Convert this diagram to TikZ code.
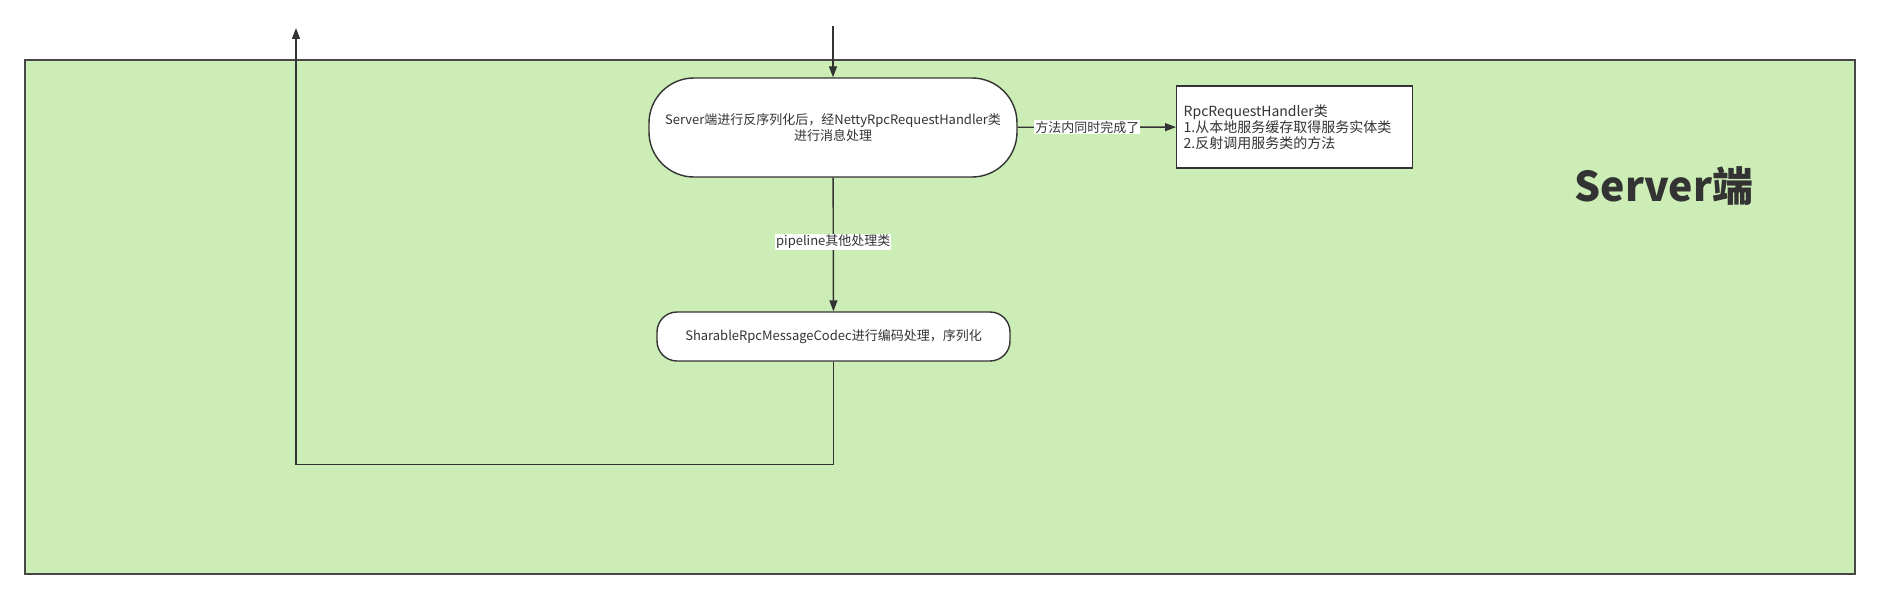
\documentclass[tikz,border=0pt]{standalone}
\usepackage{fontspec}
\setmainfont{Noto Sans CJK SC}
\usetikzlibrary{arrows.meta}
\definecolor{srvgreen}{RGB}{204,237,181}
\definecolor{inkgray}{RGB}{51,51,51}

\begin{document}
\begin{tikzpicture}[x=1pt,y=-1pt,
    flow/.style={draw=inkgray, line width=1.4pt, -{Triangle[length=11pt,width=8pt]}},
    stadium/.style={draw=inkgray, fill=white, line width=1.4pt, font={\fontsize{13}{16}\selectfont}, text=inkgray, align=center},
    plainbox/.style={draw=inkgray, fill=white, line width=1.4pt, font={\fontsize{14}{16}\selectfont}, text=inkgray, align=left},
    edgelabel/.style={fill=white, inner sep=1pt, font={\fontsize{13}{16}\selectfont}, text=inkgray}]
    \useasboundingbox (0,0) rectangle (1880,599);
    % server area
    \draw[fill=srvgreen, draw=inkgray!90, line width=1.6pt] (25,60) rectangle (1855,574);
    \node[font={\fontsize{41}{48}\selectfont\bfseries}, text=inkgray] (title) at (1664,186) {Server端};
    % nodes
    \node[stadium, minimum width=368pt, minimum height=99pt, rounded corners=45pt] (handler) at (833,127.5) {Server端进行反序列化后，经NettyRpcRequestHandler类\\进行消息处理};
    \node[plainbox, anchor=west, text width=222pt, inner xsep=7pt, minimum height=82pt] (rpcbox) at (1176,127) {RpcRequestHandler类\\1.从本地服务缓存取得服务实体类\\2.反射调用服务类的方法};
    \node[stadium, minimum width=353pt, minimum height=49pt, rounded corners=20pt] (codec) at (833.5,336.5) {SharableRpcMessageCodec进行编码处理，序列化};
    \coordinate (inflow) at (833,26);
    \coordinate (outflow) at (296,28);
    % connectors
    \draw[flow] (inflow) -- (handler);
    \draw[flow] (handler) -- node[edgelabel, pos=0.44] {方法内同时完成了} (rpcbox);
    \draw[flow] (handler) -- node[edgelabel, pos=0.48] {pipeline其他处理类} (codec);
    \draw[flow] (codec.south) -- ++(0,103) -| (outflow);
\end{tikzpicture}
\end{document}
